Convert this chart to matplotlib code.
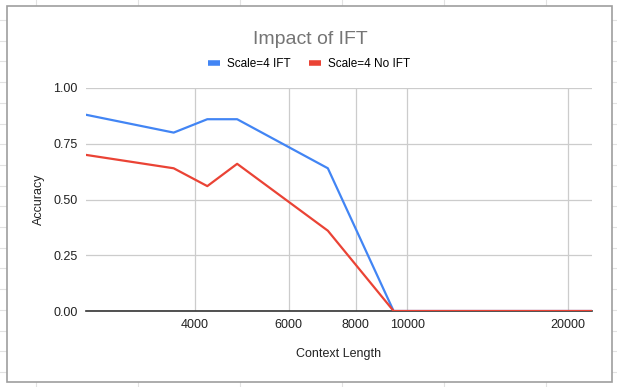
import numpy as np
from matplotlib import pyplot as plt
from matplotlib.lines import Line2D
from matplotlib.patches import Rectangle
from matplotlib.ticker import FixedLocator, NullLocator, FuncFormatter

plt.rcParams['font.family'] = ['Liberation Sans', 'DejaVu Sans']

# data
context_length = [2500, 3650, 4220, 4800, 7100, 9430, 22200]
acc_ift = [0.88, 0.80, 0.86, 0.86, 0.64, 0.0, 0.0]
acc_no_ift = [0.70, 0.64, 0.56, 0.66, 0.36, 0.0, 0.0]
x_ticks = [4000, 6000, 8000, 10000, 20000]
y_ticks = [0.0, 0.25, 0.5, 0.75, 1.0]

W, H = 617, 387
fig = plt.figure(figsize=(W / 100, H / 100), dpi=100)

# spreadsheet cells behind the chart
for xv in [36, 138, 240, 342, 444, 546]:
    fig.add_artist(Line2D([xv / W, xv / W], [0, 1], color='#e2e2e2', lw=0.8, zorder=0))
for yv in np.arange(20, H, 20.7):
    fig.add_artist(Line2D([0, 1], [1 - yv / H, 1 - yv / H], color='#e2e2e2', lw=0.8, zorder=0))
fig.add_artist(Rectangle((7 / W, 1 - 382 / H), 605 / W, 376 / H, facecolor='white',
                         edgecolor='#9e9e9e', lw=1.2, zorder=1))

ax = fig.add_axes([86 / W, 1 - 311 / H, (592 - 86) / W, (311 - 88) / H])
ax.set_zorder(2)
ax.patch.set_alpha(0)

ax.plot(context_length, acc_ift, color='#4285F4', lw=1.6, label='Scale=4 IFT', zorder=3)
ax.plot(context_length, acc_no_ift, color='#EA4335', lw=1.6, label='Scale=4 No IFT', zorder=3)

ax.set_xscale('log')
ax.set_xlim(context_length[0], context_length[-1])
ax.set_ylim(0, 1)
ax.xaxis.set_major_locator(FixedLocator(x_ticks))
ax.xaxis.set_minor_locator(NullLocator())
ax.xaxis.set_major_formatter(FuncFormatter(lambda v, p: '%d' % v))
ax.set_yticks(y_ticks)
ax.yaxis.set_major_formatter(FuncFormatter(lambda v, p: '%.2f' % v))

for s in ['top', 'right', 'left']:
    ax.spines[s].set_visible(False)
ax.spines['bottom'].set_color('#333333')
ax.spines['bottom'].set_linewidth(1.2)
ax.spines['bottom'].set_zorder(2.5)
ax.grid(True, color='#cccccc', lw=0.9)
ax.set_axisbelow(True)
ax.tick_params(axis='both', length=0, labelsize=9, colors='#222222', pad=6)

ax.set_xlabel('Context Length', fontsize=9, color='#222222', labelpad=12)
ax.set_ylabel('Accuracy', fontsize=9, color='#222222', labelpad=6)

fig.text(0.503, 1 - 40 / H, 'Impact of IFT', ha='center', va='center', fontsize=14, color='#757575')
leg = fig.legend(loc='center', bbox_to_anchor=(0.501, 1 - 64 / H), ncol=2, frameon=False,
                 fontsize=8.5, handlelength=1.0, columnspacing=1.6, handletextpad=0.6)
for line in leg.get_lines():
    line.set_linewidth(4)
    line.set_solid_capstyle('butt')

fig.savefig('out.png', dpi=100)
